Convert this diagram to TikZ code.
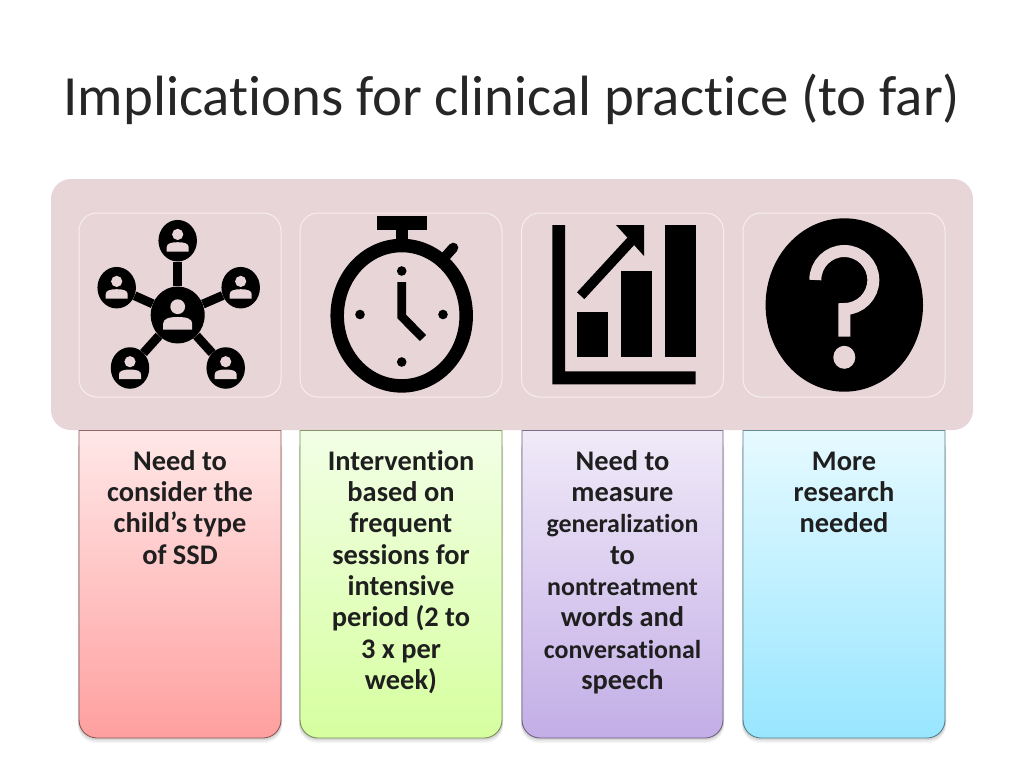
\documentclass[tikz,border=0pt]{standalone}
\usepackage{fontspec}
\setmainfont[RawFeature={-liga;-clig;-dlig}]{Carlito}
\usetikzlibrary{shapes.geometric}
\definecolor{panelbg}{HTML}{E8D5D8}
\definecolor{redtop}{HTML}{FFE8E8}\definecolor{redbot}{HTML}{FF9F9F}
\definecolor{grntop}{HTML}{F2FFE6}\definecolor{grnbot}{HTML}{D6FF9F}
\definecolor{purtop}{HTML}{F0EAF8}\definecolor{purbot}{HTML}{C3AEE6}
\definecolor{blutop}{HTML}{E6FAFF}\definecolor{blubot}{HTML}{98E6FF}
\tikzset{
  iconbox/.style={draw=white!60!panelbg,line width=1pt,rounded corners=18pt,minimum width=202pt,minimum height=184pt,inner sep=0pt,fill=panelbg},
  bodytext/.style={align=center,anchor=north,inner sep=0pt,font=\bfseries\fontsize{28.4}{31.3}\selectfont,text=black!88},
  hubnode/.style={ellipse,fill=black,inner sep=0pt,minimum width=54pt,minimum height=57pt},
  satnode/.style={ellipse,fill=black,inner sep=0pt,minimum width=38.5pt,minimum height=41.5pt},
  spoke/.style={line width=9pt,black},
}
\newcommand{\smalltxt}[1]{{\fontsize{25.9}{31.3}\selectfont #1}}
\newcommand{\firstln}{\rule{0pt}{24pt}}
\newcommand{\persongl}[3]{\begin{scope}[shift={(#1,#2)},scale=#3]
  \fill[panelbg] (0,-6.3) circle [radius=5.6];
  \fill[panelbg] (-11,11) -- (-11,6.5) .. controls (-11,3) and (-7,1.5) .. (0,1.5) .. controls (7,1.5) and (11,3) .. (11,6.5) -- (11,11) -- cycle;
\end{scope}}
\newcommand{\txtbox}[5]{%
  \foreach \d/\o in {5/.04,3.5/.05,2/.07}{\fill[black,opacity=\o,rounded corners=18] (#1-1,432) -- (#1-1,738+\d) -- (#2+1,738+\d) -- (#2+1,432) -- cycle;}
  \shade[top color=#3,bottom color=#4,rounded corners=18] (#1,430) -- (#1,738) -- (#2,738) -- (#2,430);
  \draw[#5,line width=.9pt,rounded corners=18] (#1,430) -- (#1,738) -- (#2,738) -- (#2,430);
  \draw[#5,line width=.9pt] (#1,430) -- (#2,430);
}
\begin{document}
\begin{tikzpicture}[x=1pt,y=-1pt]
\useasboundingbox (0,0) rectangle (1024,768);
\fill[white] (0,0) rectangle (1024,768);
\node[anchor=base,inner sep=0pt,font=\fontsize{56.8}{60}\selectfont,text=black!85] (title) at (512,115) {Implications for clinical practice (to far)};
% text boxes
\txtbox{79}{281}{redtop}{redbot}{black!45!redbot}
\txtbox{300}{502}{grntop}{grnbot}{black!45!grnbot}
\txtbox{522}{723}{purtop}{purbot}{black!45!purbot}
\txtbox{743}{945}{blutop}{blubot}{black!45!blubot}
\fill[panelbg,rounded corners=20] (51,179) rectangle (973,430);
\node[iconbox] (ib1) at (180,305) {};
\node[iconbox] (ib2) at (401,305) {};
\node[iconbox] (ib3) at (622.5,305) {};
\node[iconbox] (ib4) at (844,305) {};
\node[bodytext] (t1) at (180,446) {\firstln Need to\\consider the\\child’s type\\of SSD};
\node[bodytext] (t2) at (401,446) {\firstln Intervention\\based on\\frequent\\sessions for\\intensive\\period (2 to\\3 x per\\week)};
\node[bodytext] (t3) at (622.5,446) {\firstln Need to\\measure\\\smalltxt{generalization}\\to\\\smalltxt{nontreatment}\\words and\\\smalltxt{conversational}\\speech};
\node[bodytext] (t4) at (844,446) {\firstln More\\research\\needed};
% network icon
\node[hubnode] (hub) at (177.7,315) {};
\node[satnode] (s1) at (177.7,240.7) {};
\node[satnode] (s2) at (116.7,287.7) {};
\node[satnode] (s3) at (240.7,287.7) {};
\node[satnode] (s4) at (130,368) {};
\node[satnode] (s5) at (225.7,368) {};
\foreach \s in {s1,s2,s3,s4,s5} \draw[spoke] (hub) -- (\s);
\persongl{177.7}{315}{1.32}
\persongl{177.7}{240.7}{1}
\persongl{116.7}{287.7}{1}
\persongl{240.7}{287.7}{1}
\persongl{130}{368}{1}
\persongl{225.7}{368}{1}
% stopwatch icon
\fill (376.7,216) rectangle (426.7,230);
\fill (395.7,230) rectangle (407.7,245);
\draw[line width=10pt,line cap=round] (453.3,247.7) -- (445,257);
\draw[line width=13.5pt] (401.7,315.7) ellipse [x radius=64.5,y radius=70.2];
\foreach \p in {(401.7,271),(401.7,362),(360,314.5),(443,314.5)} \fill \p circle [radius=4.8];
\draw[line width=8.7pt,miter limit=10] (401.7,282) -- (401.7,316.5) -- (423,338);
% chart icon
\fill (552.3,225) -- (565,225) -- (565,371.3) -- (695.7,371.3) -- (695.7,384.3) -- (552.3,384.3) -- cycle;
\fill (577.3,312) rectangle (608.3,357.3);
\fill (621,271) rectangle (652,357.3);
\fill (664.7,225) rectangle (695.7,357.3);
\draw[line width=10pt] (580.7,295.7) -- (632,240);
\fill (616,225) -- (644,225) -- (644,256) -- cycle;
% question icon
\fill (844.3,305) ellipse [x radius=78.7,y radius=86.7];
\draw[panelbg,line width=12pt] (815.3,280) arc [start angle=180,end angle=450,radius=29] -- (844.3,336.7);
\fill[panelbg] (844.3,357.3) ellipse [x radius=11,y radius=11.5];
\end{tikzpicture}
\end{document}
